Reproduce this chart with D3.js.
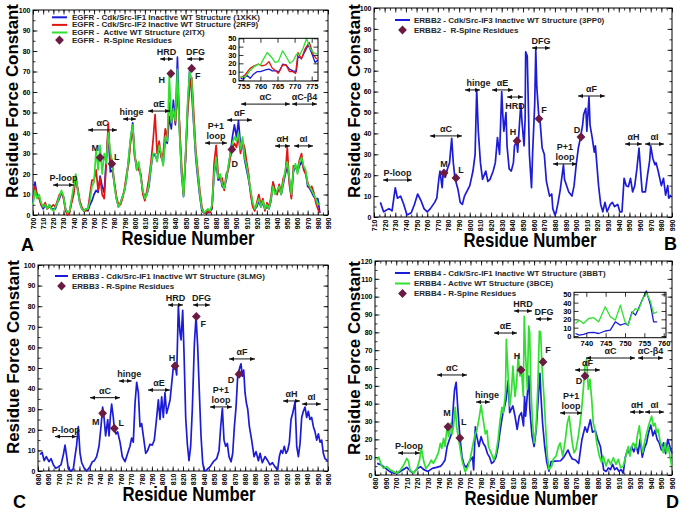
<!DOCTYPE html>
<html><head><meta charset="utf-8">
<script src="https://cdn.jsdelivr.net/npm/d3@7"></script>
<style>
body{margin:0;background:#fff;}
svg{display:block;}
text{white-space:pre;}
</style></head><body>
<svg id="c" width="684" height="512"></svg>
<script>
// ---------------- DATA ----------------
const egfr1XKK = [[700,6],[702,16],[704,9],[706,9],[708,5],[710,3],[712,5],[714,3],[716,5],[718,3],[720,3],[722,3],[724,6],[726,8],[728,11],[730,9],[732,3],[734,1],[736,2],[738,7],[740,12],[742,19],[744,12],[746,6],[748,3],[750,2],[752,3],[754,2],[756,5],[758,7],[760,10],[762,12],[764,11],[766,19],[768,14],[770,11],[772,27],[774,41],[776,21],[778,22],[780,15],[782,8],[784,4],[786,6],[788,9],[790,12],[792,18],[794,27],[796,37],[798,45],[800,29],[802,22],[804,24],[806,19],[808,11],[810,9],[812,10],[814,14],[816,23],[818,30],[820,29],[822,27],[824,33],[826,29],[828,25],[830,37],[832,35],[834,48],[836,42],[838,56],[840,44],[842,77],[844,42],[846,20],[848,9],[850,28],[852,52],[854,71],[856,60],[858,44],[860,28],[862,18],[864,9],[866,2],[868,1],[870,1],[872,1],[874,2],[876,3],[878,20],[880,26],[882,17],[884,19],[886,14],[888,13],[890,17],[892,23],[894,30],[896,38],[898,44],[900,38],[902,46],[904,34],[906,36],[908,27],[910,22],[912,17],[914,11],[916,5],[918,3],[920,4],[922,7],[924,4],[926,6],[928,3],[930,4],[932,3],[934,7],[936,16],[938,11],[940,11],[942,13],[944,10],[946,15],[948,20],[950,24],[952,17],[954,9],[956,21],[958,24],[960,21],[962,24],[964,26],[966,23],[968,21],[970,14],[972,13],[974,11],[976,9],[978,8],[980,8],[982,1]];
const egfr2RF9 = [[700,8],[702,14],[704,10],[706,8],[708,5],[710,4],[712,6],[714,3],[716,4],[718,4],[720,5],[722,4],[724,7],[726,10],[728,11],[730,8],[732,2],[734,0],[736,1],[738,6],[740,10],[742,18],[744,13],[746,7],[748,4],[750,2],[752,2],[754,3],[756,10],[758,17],[760,17],[762,22],[764,12],[766,18],[768,10],[770,8],[772,25],[774,45],[776,25],[778,24],[780,16],[782,9],[784,5],[786,5],[788,8],[790,13],[792,20],[794,25],[796,36],[798,42],[800,28],[802,25],[804,22],[806,20],[808,10],[810,7],[812,12],[814,18],[816,26],[818,36],[820,49],[822,30],[824,36],[826,28],[828,30],[830,42],[832,38],[834,55],[836,48],[838,50],[840,45],[842,60],[844,45],[846,25],[848,10],[850,28],[852,50],[854,62],[856,67],[858,50],[860,32],[862,22],[864,12],[866,4],[868,1],[870,1],[872,2],[874,1],[876,4],[878,25],[880,34],[882,20],[884,17],[886,18],[888,12],[890,20],[892,22],[894,28],[896,32],[898,35],[900,33],[902,38],[904,30],[906,36],[908,33],[910,26],[912,20],[914,10],[916,4],[918,2],[920,6],[922,10],[924,5],[926,8],[928,2],[930,6],[932,4],[934,9],[936,16],[938,12],[940,10],[942,15],[944,11],[946,18],[948,20],[950,33],[952,15],[954,8],[956,24],[958,23],[960,22],[962,27],[964,30],[966,22],[968,20],[970,16],[972,13],[974,14],[976,11],[978,6],[980,3],[982,1]];
const egfr2ITX = [[700,5],[702,12],[704,8],[706,10],[708,6],[710,4],[712,5],[714,3],[716,5],[718,3],[720,2],[722,4],[724,6],[726,9],[728,12],[730,9],[732,3],[734,1],[736,2],[738,8],[740,14],[742,20],[744,12],[746,6],[748,3],[750,2],[752,3],[754,3],[756,7],[758,14],[760,16],[762,32],[764,22],[766,34],[768,20],[770,30],[772,25],[774,40],[776,31],[778,26],[780,14],[782,8],[784,4],[786,6],[788,9],[790,12],[792,18],[794,28],[796,38],[798,44],[800,30],[802,22],[804,26],[806,18],[808,12],[810,8],[812,10],[814,15],[816,24],[818,30],[820,30],[822,26],[824,34],[826,30],[828,24],[830,38],[832,36],[834,68],[836,45],[838,52],[840,46],[842,71],[844,40],[846,22],[848,9],[850,30],[852,55],[854,70],[856,66],[858,45],[860,30],[862,20],[864,10],[866,3],[868,1],[870,2],[872,3],[874,2],[876,5],[878,20],[880,28],[882,18],[884,20],[886,15],[888,13],[890,18],[892,24],[894,30],[896,35],[898,38],[900,36],[902,40],[904,32],[906,38],[908,28],[910,24],[912,18],[914,12],[916,6],[918,3],[920,5],[922,8],[924,4],[926,7],[928,3],[930,5],[932,3],[934,8],[936,14],[938,10],[940,12],[942,14],[944,10],[946,16],[948,22],[950,26],[952,18],[954,10],[956,22],[958,25],[960,20],[962,26],[964,28],[966,24],[968,22],[970,15],[972,14],[974,12],[976,10],[978,8],[980,5],[982,6]];
const egfrSpine = [["M",766,28],["L",777.5,25],["H",835.5,69],["F",856,71.5],["D",895.5,32]];
const egfrInset1XKK = [[754.2,2],[755,1],[756,6],[757,2],[758,7],[759,10],[760,10],[761.5,12],[762.5,13],[763.5,11],[764.5,11],[765.5,10],[766.5,19],[767.5,18],[768.5,13],[769.5,11],[770.5,10],[771,28],[772,26],[773,34],[774,42],[775,32],[776,21],[776.8,24]];
const egfrInset2RF9 = [[754.2,3],[755.5,6],[757,14],[758.2,17],[759.4,19],[760.5,17],[761.5,18],[762.5,22],[763.5,14],[764.5,11],[765.2,8],[766.5,18],[767.5,18],[768.5,10],[769.5,10],[770.3,8],[771,33],[772,25],[773,37],[774.3,45],[775.5,30],[776.5,25]];
const egfrInset2ITX = [[754.2,4],[755.5,3],[757,11.5],[758.2,16],[759.4,19],[760,18],[760.9,25],[762,33],[763.3,27],[764.3,21],[765.2,22],[766.5,35],[767.7,27],[768.6,20],[769.6,23],[770.6,31],[771.6,31],[772.5,38],[773.5,50],[774.5,38],[775.5,33],[776.5,31]];

const erbb2_3PP0 = [[716,7],[719,2.5],[724,4],[727,3],[730,14],[732,9],[735,10],[738,6],[741,1],[745,2],[748,6],[751,11],[754,8],[757,4],[760,2.5],[763,4],[767,7],[769,9],[771,18.5],[772,22],[774,14],[775,21],[777,19],[779,23],[781,26],[783,37.6],[784.5,26],[786,18.7],[789,13],[791,7],[793,6],[795,10],[798,13],[800,15],[803,22],[805,30],[806.5,61],[808,41],[810,26],[812,18],[815,22],[817,17],[819,18],[822,22],[824,26],[826,38],[828,30],[830,60],[831,49],[832,41],[834,50],[835,34],[837,23],[839,22],[841,26],[842,34],[844,36],[845,31],[847,47],[848,54],[849,46],[851,34],[852,47],[852.5,79],[854,77],[855,54],[856,30],[858,14],[859,30],[861,54],[862,80],[863,62],[865,47],[866,46],[868,33],[870,30],[872,17],[875,10],[877,11],[878,4],[880,1],[881,2],[883,7],[885,13],[888,25],[889,18],[891,15],[893,12],[896,10],[898,15],[900,25],[902,33],[904,38],[906,44],[907,49],[909,52],[910,41],[912,57.5],[913,44],[915,38],[917,31],[918,34],[921,15],[923,6],[925,2.5],[927,7],[929,2.5],[932,6],[934,7],[936,5],[939,6],[941,2.5],[943,2.5],[945,18.5],[947,15],[949,14.5],[951,18.5],[953,12],[955,15],[957,23],[959,33],[961,18.5],[962,12],[965,12],[967,20],[969,27],[970,34],[972,28],[974,25],[975,26],[977,22],[980,15],[982,18.5],[984,10.5],[986,15],[987,9],[989,10.5]];
const erbb2Spine = [["M",775.8,21],["L",787,18.7],["H",844.4,36.4],["F",865,47],["D",904.5,38.3]];

const erbb3_3LMG = [[682,8],[684,9],[686,5],[688,7],[690.6,4.5],[692.6,6],[694.8,3],[697.1,1.3],[699.6,2],[702.2,3],[704.5,8],[706.1,12.6],[707.7,7],[709.3,1],[711.9,0],[714.1,1],[715.7,7],[717.3,12.6],[718.9,21.5],[720.6,8.6],[722.2,4],[724.7,1.3],[727,0],[730.2,2],[732.5,4.5],[734.4,5],[736.6,7],[738.9,12],[740.8,21.5],[742.4,31],[743.4,28],[745.3,17],[747.3,25],[748.6,17],[749.8,26],[751.1,32.5],[752.7,26],[753.7,20.7],[755.3,18],[756.9,19],[759.2,14],[761.4,7],[764,4.5],[766.6,8.6],[768.8,12],[770.4,16],[772,14],[773.7,33],[775.3,43],[776.9,38],[778.5,21.5],[780.1,23],[781.7,17],[784,8.6],[785.9,10],[788.1,13],[790.4,12.6],[792.3,15],[794.6,26],[796.2,34.5],[797.8,25],[799.4,36],[801,26],[802.6,38],[804.2,28],[805.8,31],[807.5,34.5],[809.1,42.5],[810.7,50.6],[812.3,52],[813.9,46.6],[815.5,80],[817.1,67],[818.1,63.6],[819.7,78],[821,57],[822.6,26],[824.2,13],[825.8,5],[827.4,12],[829,30],[831,62],[832.6,75],[834.2,60],[835.8,38],[837.4,17],[839,4],[840.6,0],[842.8,0.5],[846,2],[849.3,4.5],[852.5,6],[854.8,10],[856.4,21.5],[858,30.4],[859.6,15],[861.2,12],[862.8,13.4],[864.4,7],[866.4,4.5],[868,8.6],[869.6,21.5],[871.2,31],[872.8,46],[875,50.6],[876,52],[877.3,46],[878.6,49],[879.9,38],[881.2,33],[882.5,30],[884.1,21.5],[886.3,15],[888.6,7],[890.5,9.4],[892.8,5],[894.4,8.6],[896.6,4],[899.2,7],[901.8,5],[904,3],[906.3,4],[908.9,2],[911.4,0.5],[913,7],[914.6,10],[916.2,8.6],[917.8,12],[919.5,8.6],[921.1,10],[922.7,14],[924.3,25],[925.9,28],[928.2,33.6],[929.8,12],[931.4,7],[933,13.4],[934.6,26],[936.2,29],[937.8,31],[939.4,26],[941,29],[942.6,25],[944.2,26],[945.9,21.5],[947.5,19],[949.1,15],[950.7,18],[952.3,14],[953.9,15],[955.5,8.6],[957.1,6],[959.7,5]];
const erbb3Spine = [["M",742.4,28],["L",753.7,20.7],["H",812.3,51],["F",832.9,75],["D",874.1,47]];

const erbb4_3BBT = [[682,6.5],[686,5.6],[690,3.7],[694,1.9],[698,1],[702,1.3],[706,2.8],[710,4.3],[713,2.4],[716,1],[720,3.7],[723,4.7],[726,3],[730,2],[734,3.7],[738,4.3],[742,5],[744,6.5],[746,8.4],[748,16],[750,19.6],[752,23],[753,31],[754,40],[755,47.7],[756.5,52],[758,38],[760,21.5],[762,10.3],[764,5.6],[766,4.3],[768,6.5],[770,8.4],[772,10],[773,2.8],[774.6,27],[776,21.5],[778,16],[780,21.5],[782,17.8],[784,16],[786,12],[788,10],[790,6.5],[792,7.5],[794,10],[796,16],[798,25],[800,32.7],[802,38],[803.5,42],[805.5,53],[807,35],[810,38.7],[812,33],[814,25.6],[816,33],[818,35],[820,27.5],[821,44],[822,33],[824,48],[825,55.5],[826,36.8],[828,22],[830,16],[832,25.6],[834,44],[835.5,57],[836.5,44],[838,29],[840,16],[842,7],[844,2.2],[846,7.5],[850,7.8],[855,8],[858,10],[862,14],[864,11],[866,9],[869,8.4],[872,6.5],[875,19.6],[878,27],[880,24],[883,31],[885,24],[887.7,25],[890,20],[892.5,16],[895.6,2.8],[898,2],[900,4],[902,3],[904,6],[906,3],[908,4],[910,2],[912,3],[914,1],[916,10],[918,14],[920,12],[922,16],[924,13],[926,17],[928,12],[930,20],[932,10],[934,15],[936,18],[938,24],[940,28],[942,22],[944,25],[946,20],[948,18],[950,14],[952,18],[954,12],[956,20],[958,16],[960,12]];
const erbb4_3BCE = [[682,8.4],[683.5,10],[686,5.6],[688,3.7],[691,4.7],[694.5,2.8],[697.6,1.9],[700.7,1],[704,2.8],[707,5.6],[710,9.3],[711.7,7.5],[713,2.8],[716.5,1],[719.6,3.7],[722,8.4],[723.7,15],[726,7.5],[728,3.7],[730.6,5.6],[733,8.4],[735,6.5],[737.5,9.3],[740,13],[741.6,17.8],[743,15],[744.7,20.6],[746,16],[748,27],[749.5,21.5],[751,29],[752.6,23],[754,27],[755.7,38],[757,27],[759,19.6],[760.5,14],[762,8.4],[763.6,4.7],[765,1.9],[767.7,4.7],[770,10],[772,16],[774,22],[776,25],[778.4,32.7],[780,39],[782,31],[784,23],[785.6,25],[787,16],[789.7,12],[792,8.4],[794,12],[796,19.6],[798,31],[799.7,38],[801,34.6],[803,46],[803.8,76],[805.7,53.6],[807,38.7],[808.8,48],[810,61],[812,44],[813.6,52],[815,67],[816.7,55.5],[818.3,57],[819.8,44],[820.7,89],[822,67],[823.6,48],[824.9,83.5],[825.8,80],[827,48],[828.6,29],[830,18],[831.8,25.6],[833.4,48],[835,80.7],[836.2,80],[837.4,61],[839.3,44],[841,25.6],[842.5,10.6],[844,3.2],[846.7,5],[848,8.8],[850.7,10.6],[853,16],[854.6,18],[857,10.6],[859.5,20],[861.3,29],[863,33],[864.5,25.6],[866,18],[867.6,12.5],[869.5,14.4],[871.7,21.9],[873.3,29],[874.8,36.8],[876.4,48],[878,61],[879.6,65],[881.1,48],[882.7,53.6],[884.3,42.4],[885.8,29],[887.4,25.6],[889,18],[891.5,10.6],[893.7,7],[895.3,10.6],[897.8,5],[900,8.8],[902.2,6],[904.7,9.7],[907.2,6],[909.4,8.8],[911.6,4],[914,5],[915.7,8.8],[917.3,12.5],[918.8,16],[920.4,10.6],[922,16],[923.6,18],[925.8,14.4],[927.3,21.9],[929.2,27.5],[930.8,18],[932.4,12.5],[934,18],[935.5,22],[937,25.6],[938.6,29],[940.8,33],[942.4,27.5],[944,29],[945.6,23.7],[947,25.6],[948.7,19],[950.3,16],[951.8,12.5],[953.4,18],[955,12.5],[956.6,16],[958,10.6],[959.7,5]];
const erbb4Spine = [["M",748.8,27],["L",760,20.7],["H",817.6,58.9],["F",838.4,63.4],["D",878,55.5]];
const erbb4InsetBBT = [[737.2,3],[738.2,1],[739.3,2],[740.6,4],[741.9,4.4],[743.2,3],[744.9,6],[746.2,7],[747.5,17],[748.8,13],[750,15],[750.8,13],[751.8,29],[752.7,25],[753.5,33],[754.6,45],[755.5,54],[756.6,37],[757.4,17],[758.3,17]];
const erbb4InsetBCE = [[737.2,15],[738.2,19],[739.3,15],[740.6,21],[741.9,22],[743.2,17],[744.9,35],[746.2,23],[747.5,19],[748.8,37],[750,17],[750.8,13],[751.8,27],[752.7,33],[753.5,31],[754.6,45],[755.5,52],[756.6,41],[757.4,27],[758.3,29]];

// tick labels
const xTicksA = d3.range(700, 991, 10);
const xTicksB = d3.range(710, 991, 10);
const xTicksCD = d3.range(680, 961, 10);
const yTicks100 = d3.range(0, 101, 10);
const yTicks120 = d3.range(0, 121, 10);
const insetYTicks = [0,10,20,30,40,50];
const insetXTicksA = [755,760,765,770,775];
const insetXTicksD = [740,745,750,755,760];

// region annotations: [label, startResidue, endResidue, level]
const annA = [["P-loop",719.7,740.3,14.6],["αC",754,782.6,41.5],["hinge",788.5,801.3,46.8],["αE",813,834.7,50.7],["HRD",824.9,837.6,76.1],["DFG",851.4,868.1,76.1],["P+1\nloop",869,890.7,35.1],["αF",890.7,915.3,46.3],["αH",937.9,952.7,33.7],["αI",956.6,975.3,33.7],["αC",904.5,952.7,54.1],["αC-β4",954.6,979.2,54.1]];
const annB = [["P-loop",718.5,745.7,17.7],["αC",762.6,792.7,38.8],["hinge",795.5,809.6,60.8],["αE",820.9,840.6,60.8],["HRD",835,850,57.4],["DFG",858.5,875.4,80.9],["P+1\nloop",878.2,900.7,25.4],["αF",901.7,927,57.9],["αH",945.8,961.8,34.9],["αI",964.6,982.5,34.9]];
const annC = [["P-loop",696.4,717.4,16.7],["αC",730.2,759.2,35.6],["hinge",758,770.5,43.7],["αE",786.2,807.4,39.3],["HRD",805.5,820,80.6],["DFG",829.7,846,80.6],["P+1\nloop",846,867.3,31.1],["αF",864.4,889.5,54.4],["αH",916.6,933,34],["αI",934.9,953.2,32.5]];
const annD = [["P-loop",701.7,722.4,12.3],["αC",738.5,766.7,56.1],["hinge",775.2,788.4,40.9],["αE",792.2,813.9,79.6],["HRD",811,828,92],["DFG",831.8,846.9,87.5],["P+1\nloop",854.4,875.2,34.8],["αF",868.6,892.1,58.9],["αC",878.9,925.1,65.6],["αC-β4",928,951.5,65.6],["αH",920.4,933.6,35.3],["αI",934.5,952.5,35.3]];

// ---------------- STYLE ----------------
const FONT = '"Liberation Sans", Arial, Helvetica, sans-serif';
const BLUE = "#1c1cd8", RED = "#e21414", GREEN = "#30e030", SPINE = "#6b1a42", TXT = "#1a1a1a";

const svg = d3.select("#c").attr("font-family", FONT).attr("font-weight", "bold");
svg.append("rect").attr("width", 684).attr("height", 512).attr("fill", "#fff");
const defs = svg.append("defs");
defs.append("marker").attr("id", "ah").attr("viewBox", "0 0 10 10")
  .attr("refX", 10).attr("refY", 5).attr("markerWidth", 5).attr("markerHeight", 5)
  .attr("markerUnits", "userSpaceOnUse").attr("orient", "auto-start-reverse")
  .append("path").attr("d", "M0,1L10,5L0,9Z").attr("fill", "#111");

const diamond = "M0,-4.6L4.4,0L0,4.6L-4.4,0Z";

function styleAxis(sel, fs) {
  sel.select(".domain").remove();
  sel.attr("font-family", FONT).attr("font-size", fs).attr("font-weight", "bold");
  sel.selectAll(".tick line").attr("stroke", "#000").attr("stroke-width", 0.8);
  sel.selectAll(".tick text").attr("fill", "#000");
}

function frameAxes(g, x, y, p, fs, xTicks, xMinor, yTicks, yMinor) {
  const fmt = d3.format("d");
  const defsA = [
    [d3.axisBottom(x).tickValues(xMinor).tickSize(-2.5).tickFormat(""), 0, p.bottom],
    [d3.axisTop(x).tickValues(xMinor).tickSize(-2.5).tickFormat(""), 0, p.top],
    [d3.axisTop(x).tickValues(xTicks).tickSize(-4.5).tickFormat(""), 0, p.top],
    [d3.axisLeft(y).tickValues(yMinor).tickSize(-2.5).tickFormat(""), p.left, 0],
    [d3.axisRight(y).tickValues(yMinor).tickSize(-2.5).tickFormat(""), p.right, 0],
    [d3.axisRight(y).tickValues(yTicks).tickSize(-4.5).tickFormat(""), p.right, 0]
  ];
  defsA.forEach(([ax, tx, ty]) => {
    const s = g.append("g").attr("transform", `translate(${tx},${ty})`).call(ax);
    styleAxis(s, fs);
  });
  const xb = g.append("g").attr("transform", `translate(0,${p.bottom})`)
    .call(d3.axisBottom(x).tickValues(xTicks).tickSize(-4.5).tickFormat(fmt));
  styleAxis(xb, fs);
  if (p.rotX) {
    xb.selectAll(".tick text").attr("transform", "rotate(-90)").attr("text-anchor", "end")
      .attr("x", -2.5).attr("y", 0).attr("dy", "0.35em");
  } else {
    xb.selectAll(".tick text").attr("y", 2.5).attr("dy", "0.71em");
  }
  const yl = g.append("g").attr("transform", `translate(${p.left},0)`)
    .call(d3.axisLeft(y).tickValues(yTicks).tickSize(-4.5).tickFormat(fmt));
  styleAxis(yl, fs);
  yl.selectAll(".tick text").attr("x", -2.5);
  g.append("rect").attr("x", p.left).attr("y", p.top)
    .attr("width", p.right - p.left).attr("height", p.bottom - p.top)
    .attr("fill", "none").attr("stroke", "#000").attr("stroke-width", 1);
}

function drawPanel(p) {
  const x = d3.scaleLinear().domain(p.xDomain).range([p.left, p.right]);
  const y = d3.scaleLinear().domain(p.yDomain).range([p.bottom, p.top]);
  const g = svg.append("g");
  const xMinor = d3.range(p.xDomain[0], p.xDomain[1] + 0.1, 5);
  const yMinor = d3.range(p.yDomain[0], p.yDomain[1] + 0.1, 5);
  frameAxes(g, x, y, Object.assign({rotX: true}, p), 7, p.xTicks, xMinor, p.yTicks, yMinor);

  const line = d3.line().x(d => x(d[0])).y(d => y(d[1]));
  p.series.forEach(s => {
    g.append("path").datum(s.data).attr("d", line).attr("fill", "none")
      .attr("stroke", s.color).attr("stroke-width", 1.7).attr("stroke-linejoin", "round");
  });

  // region annotations
  p.ann.forEach((a, i) => {
    const [label, r1, r2, lv] = a;
    const ay = y(lv);
    g.append("line").attr("x1", x(r1)).attr("x2", x(r2)).attr("y1", ay).attr("y2", ay)
      .attr("stroke", "#111").attr("stroke-width", 1)
      .attr("marker-start", "url(#ah)").attr("marker-end", "url(#ah)");
    const cx = (x(r1) + x(r2)) / 2 + ((p.annDx && p.annDx[i]) || 0);
    const lines = label.split("\n");
    if (p.annBelow && p.annBelow[i]) {
      g.append("text").attr("x", cx).attr("y", ay + 12).attr("text-anchor", "middle")
        .attr("font-size", 9).attr("fill", TXT).text(label);
    } else if (lines.length === 2) {
      g.append("text").attr("x", cx).attr("y", ay - 14).attr("text-anchor", "middle")
        .attr("font-size", 9).attr("fill", TXT).text(lines[0]);
      g.append("text").attr("x", cx).attr("y", ay - 4).attr("text-anchor", "middle")
        .attr("font-size", 9).attr("fill", TXT).text(lines[1]);
    } else {
      g.append("text").attr("x", cx).attr("y", ay - 4).attr("text-anchor", "middle")
        .attr("font-size", 9).attr("fill", TXT).text(label);
    }
  });

  // R-spine residues
  p.spine.forEach(([lab, r, v]) => {
    g.append("path").attr("d", diamond).attr("fill", SPINE)
      .attr("transform", `translate(${x(r)},${y(v)})`);
    const off = p.spineOff[lab];
    g.append("text").attr("x", x(r) + off[0]).attr("y", y(v) + off[1]).attr("dy", "0.35em")
      .attr("text-anchor", "middle").attr("font-size", 9).attr("fill", TXT).text(lab);
  });

  // legend
  const L = p.legend;
  L.items.forEach((it, i) => {
    const ly = L.rows[i];
    if (it.type === "line") {
      g.append("line").attr("x1", L.x1).attr("x2", L.x2).attr("y1", ly).attr("y2", ly)
        .attr("stroke", it.color).attr("stroke-width", 2);
    } else {
      g.append("path").attr("d", diamond).attr("fill", SPINE)
        .attr("transform", `translate(${(L.x1 + L.x2) / 2},${ly})`);
    }
    g.append("text").attr("transform", `translate(${L.tx},${ly}) scale(${L.sx || 1},1)`)
      .attr("dy", "0.35em")
      .attr("font-size", L.fs || 8).attr("fill", "#262626").text(it.label);
  });

  // axis titles
  g.append("text").attr("transform", `translate(${p.yTitle[0]},${p.yTitle[1]}) rotate(-90)`)
    .attr("text-anchor", "middle").attr("font-size", 17).attr("fill", "#000")
    .attr("textLength", 194).attr("lengthAdjust", "spacingAndGlyphs").text("Residue Force Constant");
  g.append("text").attr("x", p.xTitle[0]).attr("y", p.xTitle[1])
    .attr("text-anchor", "middle").attr("font-size", 20).attr("fill", "#000")
    .attr("textLength", 133).attr("lengthAdjust", "spacingAndGlyphs").text("Residue Number");
  g.append("text").attr("x", p.letter[1]).attr("y", p.letter[2])
    .attr("font-size", 18).attr("fill", "#000").text(p.letter[0]);

  // inset
  if (p.inset) {
    const q = p.inset;
    const ix = d3.scaleLinear().domain(q.xDomain).range(q.xRange);
    const iy = d3.scaleLinear().domain([0, 50]).range(q.yRange);
    const ig = g.append("g");
    ig.append("rect").attr("x", q.left).attr("y", q.top).attr("width", q.right - q.left)
      .attr("height", q.bottom - q.top).attr("fill", "#fff");
    const il = d3.line().x(d => ix(d[0])).y(d => iy(d[1]));
    q.series.forEach(s => {
      ig.append("path").datum(s.data).attr("d", il).attr("fill", "none")
        .attr("stroke", s.color).attr("stroke-width", 1.3).attr("stroke-linejoin", "round");
    });
    frameAxes(ig, ix, iy, {left: q.left, right: q.right, top: q.top, bottom: q.bottom, rotX: false},
      7.5, q.xTicks, [], insetYTicks, []);
  }
}

// ---------------- PANELS ----------------
drawPanel({
  left: 33, right: 328, top: 10, bottom: 215, xDomain: [700, 990], yDomain: [0, 100],
  xTicks: xTicksA, yTicks: yTicks100,
  series: [{data: egfr1XKK, color: BLUE}, {data: egfr2RF9, color: RED}, {data: egfr2ITX, color: GREEN}],
  ann: annA, annDx: {2: 2},
  spine: egfrSpine, spineOff: {M: [-5, -10], L: [5, -7], H: [-9, 6], F: [6, 7], D: [3, 14]},
  legend: {x1: 52, x2: 67, tx: 72, fs: 7, sx: 1.15, rows: [17.3, 24.9, 32.5, 40.1], items: [
    {type: "line", color: BLUE, label: "EGFR - Cdk/Src-IF1 Inactive WT Structure (1XKK)"},
    {type: "line", color: RED, label: "EGFR - Cdk/Src-IF2 Inactive WT Structure (2RF9)"},
    {type: "line", color: GREEN, label: "EGFR -  Active WT Structure (2ITX)"},
    {type: "diamond", label: "EGFR -  R-Spine Residues"}]},
  yTitle: [18, 101], xTitle: [188, 245], letter: ["A", 21, 251],
  inset: {left: 239, right: 318, top: 38.3, bottom: 81, xDomain: [755, 775], xRange: [243.3, 311.7],
    yRange: [80, 38.3], xTicks: insetXTicksA,
    series: [{data: egfrInset1XKK, color: BLUE}, {data: egfrInset2RF9, color: RED}, {data: egfrInset2ITX, color: GREEN}]}
});

drawPanel({
  left: 374, right: 672, top: 8, bottom: 217, xDomain: [710, 990], yDomain: [0, 100],
  xTicks: xTicksB, yTicks: yTicks100,
  series: [{data: erbb2_3PP0, color: BLUE}],
  ann: annB, annDx: {2: 6}, annBelow: {4: true},
  spine: erbb2Spine, spineOff: {M: [0, -9], L: [5, -8], H: [-4, -9], F: [5, -9], D: [-4, -7]},
  legend: {x1: 395, x2: 410, tx: 414, rows: [20, 30], items: [
    {type: "line", color: BLUE, label: "ERBB2 - Cdk/Src-IF3 Inactive WT Structure (3PP0)"},
    {type: "diamond", label: "ERBB2 -  R-Spine Residues"}]},
  yTitle: [360, 101], xTitle: [530, 247], letter: ["B", 664, 250]
});

drawPanel({
  left: 38, right: 328, top: 265, bottom: 471, xDomain: [680, 960], yDomain: [0, 100],
  xTicks: xTicksCD, yTicks: yTicks100,
  series: [{data: erbb3_3LMG, color: BLUE}],
  ann: annC, annDx: {2: 4},
  spine: erbb3Spine, spineOff: {M: [-7, 9], L: [7, -6], H: [-3, -8], F: [7, 7], D: [-8, 6]},
  legend: {x1: 55, x2: 68, tx: 72, rows: [276, 286], items: [
    {type: "line", color: BLUE, label: "ERBB3 - Cdk/Src-IF1 Inactive WT Structure (3LMG)"},
    {type: "diamond", label: "ERBB3 - R-Spine Residues"}]},
  yTitle: [19, 357], xTitle: [189, 501], letter: ["C", 13, 508]
});

drawPanel({
  left: 375, right: 672, top: 261, bottom: 475, xDomain: [680, 960], yDomain: [0, 120],
  xTicks: xTicksCD, yTicks: yTicks120,
  series: [{data: erbb4_3BBT, color: BLUE}, {data: erbb4_3BCE, color: GREEN}],
  ann: annD, annDx: {2: 4},
  spine: erbb4Spine, spineOff: {M: [-1, -14], L: [4, -16], H: [-4, -14], F: [5, -12], D: [-6, 5]},
  legend: {x1: 395, x2: 410, tx: 414, rows: [273, 283.5, 293.5], items: [
    {type: "line", color: BLUE, label: "ERBB4 - Cdk/Src-IF1 Inactive WT Structure (3BBT)"},
    {type: "line", color: GREEN, label: "ERBB4 - Active WT Structure (3BCE)"},
    {type: "diamond", label: "ERBB4 - R-Spine Residues"}]},
  yTitle: [360, 358], xTitle: [531, 505], letter: ["D", 666, 508],
  inset: {left: 574, right: 666, top: 292.3, bottom: 337.7, xDomain: [740, 760], xRange: [586.3, 663.7],
    yRange: [336, 294.3], xTicks: insetXTicksD,
    series: [{data: erbb4InsetBBT, color: BLUE}, {data: erbb4InsetBCE, color: GREEN}]}
});
</script>
</body></html>
